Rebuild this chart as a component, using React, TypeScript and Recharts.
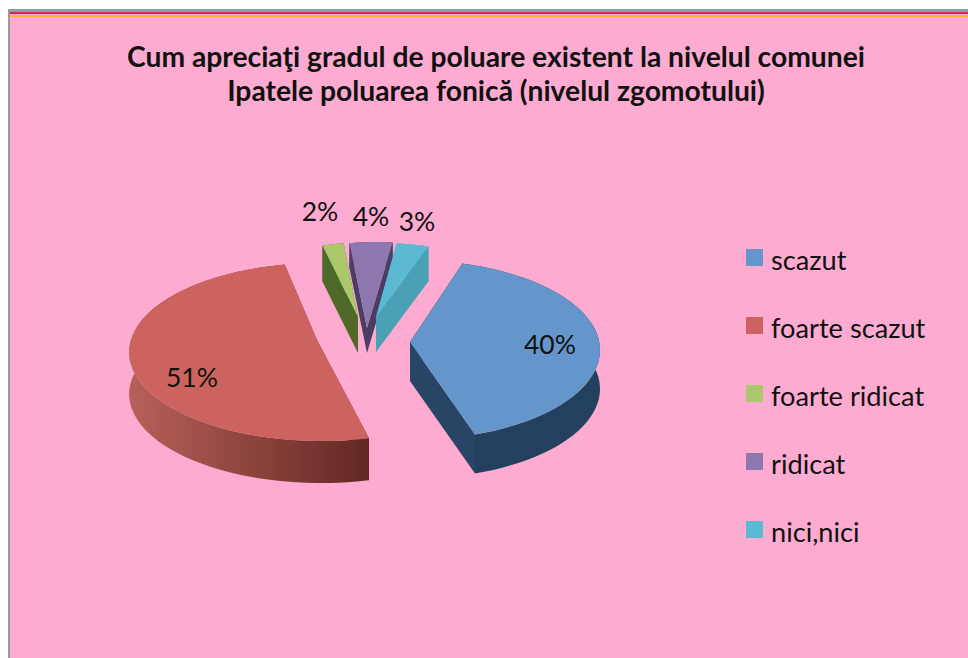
import React from "react";
import { PieChart, Pie, Legend } from "recharts";

const categories = ["scazut", "foarte scazut", "foarte ridicat", "ridicat", "nici,nici"];
const percentages = [40, 51, 2, 4, 3];
const topColors = ["#6496cb", "#cd635e", "#abc96c", "#8d77af", "#5bb9d1"];
const titleLines = [
  "Cum apreciaţi gradul de poluare existent la nivelul comunei",
  "Ipatele poluarea fonică (nivelul zgomotului)",
];

const tableRows = categories.map((name, i) => ({ name, value: percentages[i], fill: topColors[i] }));

// Exploded-slice drawing parameters (style only): rim centre offset, apex offset, radii, extrusion, colours.
const sliceStyles = [
  { rimX: 46, rimY: 4, apexX: 46, apexY: -4, k: 1, ry: 90, depth: 39, angle: 0, edge: "#284566", side: ["#24405f", "#24405f"], labelX: 550, labelY: 344 },
  { rimX: -43, rimY: 6, apexX: -47, apexY: -6, k: 1.01, ry: 89, depth: 42, angle: -5.5, edge: "#8a3f38", side: ["#b8605a", "#632822"], labelX: 192, labelY: 377 },
  { rimX: 7, rimY: -14, apexX: -6, apexY: -29, k: 0.905, ry: 90, depth: 36, angle: 0, edge: "#4f6a28", side: ["#4f6a28", "#4f6a28"], labelX: 320, labelY: 211 },
  { rimX: 13, rimY: -14, apexX: 3, apexY: -18, k: 0.905, ry: 90, depth: 25, angle: 0, edge: "#4b3d63", side: ["#4b3d63", "#4b3d63"], labelX: 371, labelY: 216 },
  { rimX: 17, rimY: -13, apexX: 12, apexY: -29, k: 0.905, ry: 90, depth: 35, angle: 0, edge: "#4aa0b4", side: ["#4aa0b4", "#4aa0b4"], labelX: 417, labelY: 221 },
];

const FONT = "Lato, 'Open Sans', sans-serif";

function rimPoints(cx: number, cy: number, rx: number, ry: number, a0: number, a1: number) {
  const n = 48;
  const pts: [number, number][] = [];
  for (let i = 0; i <= n; i++) {
    const a = ((a0 + ((a1 - a0) * i) / n) * Math.PI) / 180;
    pts.push([cx + rx * Math.cos(a), cy - ry * Math.sin(a)]);
  }
  return pts;
}

const toPath = (pts: [number, number][]) =>
  pts.map((p, i) => `${i ? "L" : "M"}${p[0].toFixed(1)},${p[1].toFixed(1)}`).join("") + "Z";

function Slice3D(props: any, idx?: number) {
  const { cx, cy, outerRadius, startAngle, endAngle, fill } = props;
  const i = topColors.indexOf(fill);
  const s = sliceStyles[i >= 0 ? i : (idx ?? 0)];
  const rim = rimPoints(cx + s.rimX, cy + s.rimY, outerRadius * s.k, s.ry, startAngle + s.angle, endAngle + s.angle);
  const apex: [number, number] = [cx + s.apexX, cy + s.apexY];
  const down = (p: [number, number]): [number, number] => [p[0], p[1] + s.depth];
  const first = rim[0];
  const last = rim[rim.length - 1];
  const xs = rim.map((p) => p[0]);
  const gid = `side-${i}`;
  return (
    <g>
      <defs>
        <linearGradient id={gid} gradientUnits="userSpaceOnUse" x1={Math.min(...xs)} x2={Math.max(...xs)} y1={0} y2={0}>
          <stop offset="0" stopColor={s.side[0]} />
          <stop offset="1" stopColor={s.side[1]} />
        </linearGradient>
      </defs>
      <path d={toPath([apex, first, down(first), down(apex)])} fill={s.edge} />
      <path d={toPath([apex, last, down(last), down(apex)])} fill={s.edge} />
      <path d={toPath([...rim, ...rim.slice().reverse().map(down)])} fill={`url(#${gid})`} />
      <path d={toPath([apex, ...rim])} fill={fill} />
    </g>
  );
}

function SliceLabel(props: any) {
  const s = sliceStyles[props.index];
  return (
    <text x={s.labelX} y={s.labelY} textAnchor="middle" dominantBaseline="central" fontFamily={FONT} fontSize={26.5} fill="#111">
      {`${props.value}%`}
    </text>
  );
}

function LegendList({ payload }: any) {
  return (
    <div>
      {(payload || []).map((e: any) => (
        <div key={e.value} style={{ display: "flex", alignItems: "center", height: 68, marginTop: 0 }}>
          <div style={{ width: 17, height: 17, background: e.color, marginRight: 8, alignSelf: "flex-start", marginTop: 0 }} />
          <div style={{ fontFamily: FONT, fontSize: 27.2, color: "#111", lineHeight: "22px", alignSelf: "flex-start", whiteSpace: "nowrap" }}>{e.value}</div>
        </div>
      ))}
    </div>
  );
}

export default function App() {
  return (
    <div style={{ position: "absolute", left: 0, top: 0, width: 968, height: 658, background: "#fff", overflow: "hidden" }}>
      <div style={{ position: "absolute", left: 8, top: 9, width: 960, height: 649, background: "#9a9a9a" }} />
      <div style={{ position: "absolute", left: 10, top: 12, width: 958, height: 646, background: "#fdabd0" }} />
      <div style={{ position: "absolute", left: 10, top: 12, width: 958, height: 2, background: "#d81e6e" }} />
      <div style={{ position: "absolute", left: 10, top: 15, width: 958, height: 2, background: "#f9b233" }} />
      <div style={{ position: "absolute", left: 0, top: 39, width: 992, textAlign: "center", fontFamily: FONT, fontWeight: 700, fontSize: 28.25, lineHeight: "34px", color: "#111" }}>
        {titleLines.map((t) => (
          <div key={t} style={{ whiteSpace: "nowrap" }}>{t}</div>
        ))}
      </div>
      <div style={{ position: "absolute", left: 0, top: 0 }}>
        <PieChart width={968} height={658} margin={{ top: 0, right: 0, bottom: 0, left: 0 }}>
          <Pie
            data={tableRows}
            dataKey="value"
            nameKey="name"
            cx={364}
            cy={346}
            outerRadius={190}
            startAngle={74}
            endAngle={-286}
            stroke="none"
            isAnimationActive={false}
            shape={Slice3D}
            inactiveShape={Slice3D}
            activeShape={Slice3D}
            label={SliceLabel}
            labelLine={false}
          />
          <Legend
            layout="vertical"
            verticalAlign="middle"
            align="right"
            itemSorter={null}
            content={<LegendList />}
            wrapperStyle={{ left: 746, top: 249, right: "auto", width: 220 }}
          />
        </PieChart>
      </div>
    </div>
  );
}
